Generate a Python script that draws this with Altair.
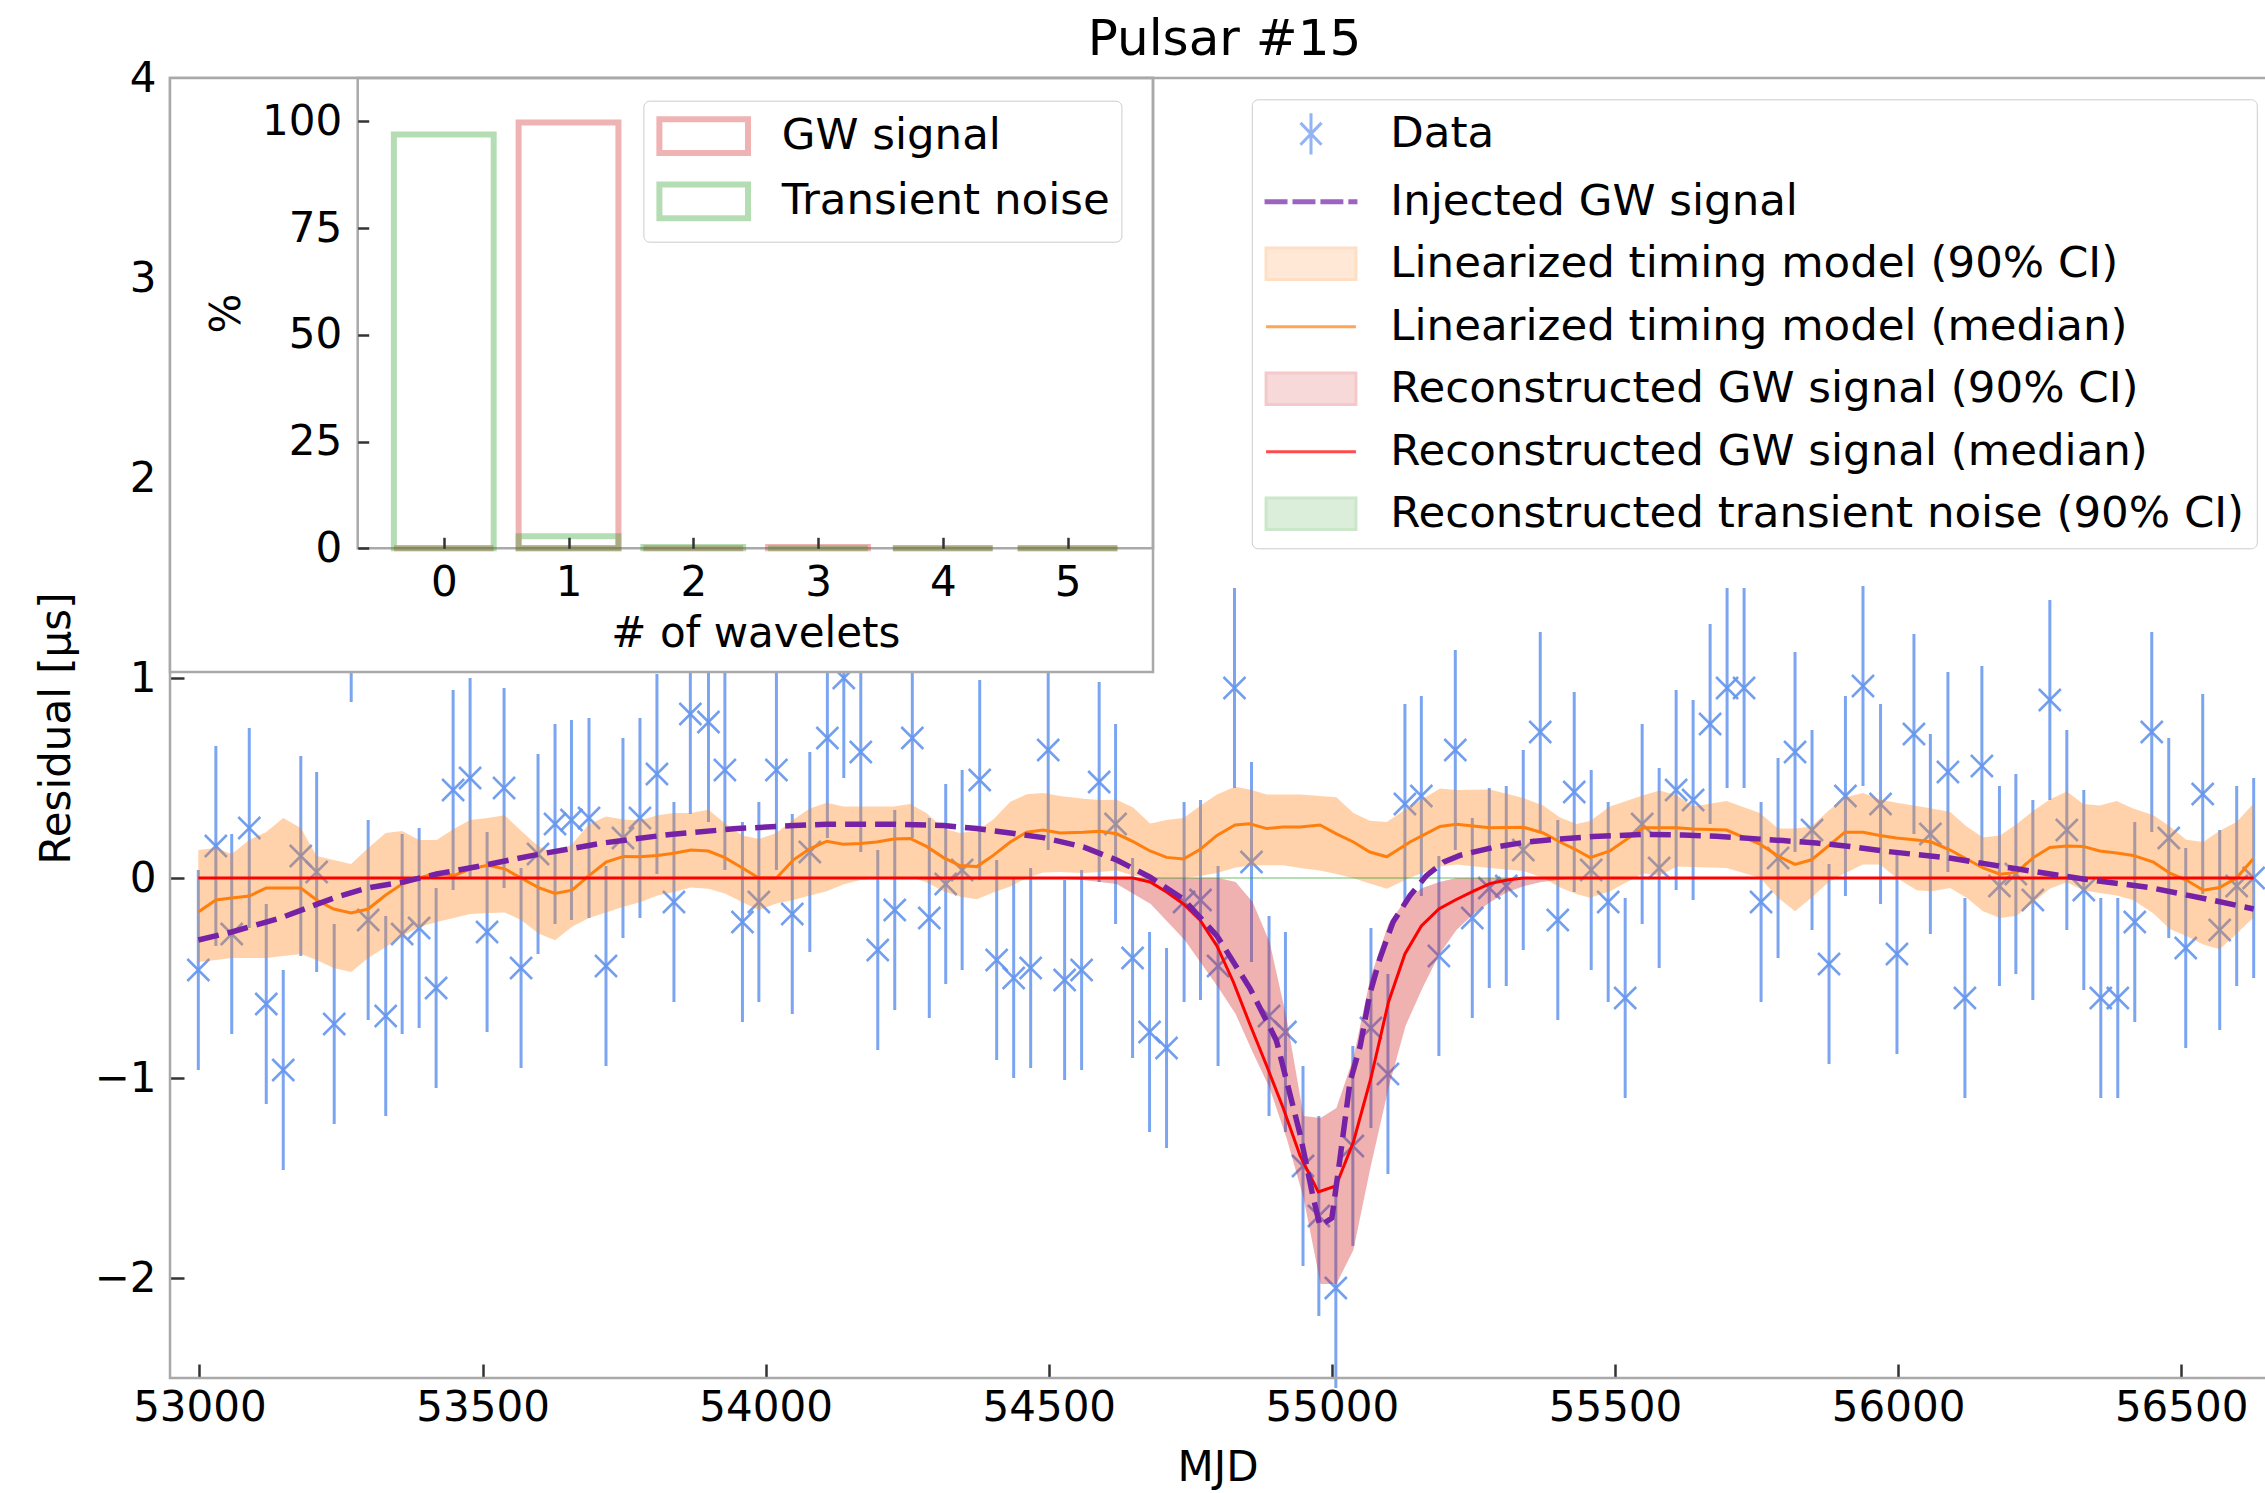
import altair as alt
import pandas as pd

FONT = "DejaVu Sans"

# ---------------------------------------------------------------- data
# timing residuals of pulsar #15 (MJD, microseconds); every error bar is +-0.5 us
TOA_MJD = [
    52998, 53029, 53057, 53088, 53118, 53148, 53179, 53207, 53238, 53268, 53298, 53329, 53358, 53388, 53418, 53448, 53478,
    53508, 53538, 53568, 53598, 53628, 53657, 53688, 53718, 53748, 53778, 53808, 53838, 53867, 53899, 53928, 53959, 53988,
    54019, 54047, 54078, 54109, 54138, 54168, 54198, 54228, 54259, 54289, 54318, 54347, 54378, 54408, 54438, 54468, 54499,
    54528, 54558, 54589, 54618, 54648, 54678, 54708, 54739, 54768, 54799, 54828, 54858, 54889, 54918, 54949, 54977, 55007, 55037,
    55069, 55099, 55129, 55158, 55189, 55218, 55248, 55278, 55308, 55338, 55368, 55399, 55428, 55458, 55488, 55518, 55548,
    55578, 55608, 55638, 55668, 55698, 55728, 55758, 55788, 55818, 55848, 55878, 55907, 55938, 55969, 55998, 56028, 56057, 56088,
    56118, 56148, 56179, 56208, 56238, 56268, 56298, 56328, 56358, 56388, 56418, 56448, 56478, 56508, 56538, 56568, 56598, 56628,
]
RESIDUAL_US = [
    -0.46, 0.16, -0.28, 0.25, -0.63, -0.96, 0.11, 0.03, -0.73, 1.38, -0.21, -0.69, -0.28, -0.25, -0.55, 0.44, 0.50,
    -0.27, 0.45, -0.45, 0.12, 0.27, 0.29, 0.30, -0.44, 0.20, 0.30, 0.52, -0.12, 0.82, 0.78, 0.54, -0.22, -0.12,
    0.54, -0.18, 0.13, 0.70, 1.00, 0.63, -0.36, -0.16, 0.70, -0.20, -0.03, 0.04, 0.49, -0.41, -0.50, -0.45, 0.64,
    -0.51, -0.46, 0.48, 0.27, -0.40, -0.77, -0.85, -0.12, -0.11, -0.44, 0.95, 0.08, -0.69, -0.77, -1.44, -1.69, -2.05, -1.34,
    -0.75, -0.98, 0.37, 0.41, -0.39, 0.64, -0.20, -0.05, -0.04, 0.14, 0.73, -0.21, 0.43, 0.04, -0.12, -0.60, 0.27,
    0.05, 0.44, 0.39, 0.77, 0.95, 0.95, -0.12, 0.10, 0.63, 0.24, -0.43, 0.41, 0.96, 0.37, -0.38, 0.72, 0.22, 0.53,
    -0.60, 0.56, -0.04, 0.02, -0.11, 0.89, 0.24, -0.06, -0.60, -0.60, -0.22, 0.73, 0.20, -0.35, 0.42, -0.26, -0.04, 0.00,
]
RESIDUAL_ERR_US = 0.5

# injected GW signal
INJ_MJD = [
    52998, 53057, 53143, 53237, 53296, 53360, 53419, 53496, 53596, 53713, 53831, 53949, 54050, 54108, 54226, 54314,
    54373, 54432, 54490, 54561, 54620, 54679, 54738, 54797, 54855, 54902, 54944, 54967, 54979, 55000, 55014, 55032,
    55050, 55067, 55085, 55108, 55138, 55167, 55197, 55226, 55285, 55344, 55403, 55462, 55550, 55620, 55679, 55797,
    55856, 55915, 55974, 56033, 56091, 56209, 56327, 56445, 56562, 56628,
]
INJ_US = [
    -0.31, -0.27, -0.20, -0.10, -0.05, -0.02, 0.02, 0.06, 0.117, 0.175, 0.218, 0.247, 0.262, 0.269, 0.269, 0.262,
    0.247, 0.225, 0.202, 0.155, 0.09, 0.004, -0.106, -0.289, -0.55, -0.812, -1.283, -1.597, -1.74, -1.70, -1.41, -1.02,
    -0.84, -0.58, -0.40, -0.22, -0.088, 0.012, 0.079, 0.113, 0.153, 0.18, 0.195, 0.207, 0.218, 0.215, 0.209, 0.187,
    0.175, 0.158, 0.135, 0.117, 0.10, 0.046, -0.005, -0.048, -0.115, -0.155,
]

# linearized timing model: 5th percentile, median, 95th percentile
TM_MJD = [
    52998, 53029, 53057, 53088, 53118, 53148, 53179, 53207, 53237, 53268, 53298, 53329, 53358, 53388, 53419, 53449,
    53478, 53509, 53539, 53568, 53599, 53628, 53658, 53688, 53718, 53749, 53778, 53809, 53838, 53868, 53899, 53928,
    53959, 53988, 54019, 54049, 54078, 54108, 54137, 54167, 54196, 54226, 54255, 54284, 54314, 54343, 54373, 54402,
    54432, 54461, 54490, 54520, 54561, 54590, 54620, 54649, 54679, 54708, 54738, 54767, 54797, 54829, 54855, 54885,
    54914, 54944, 54979, 55008, 55038, 55067, 55097, 55138, 55191, 55220, 55279, 55338, 55373, 55403, 55432, 55456,
    55491, 55550, 55579, 55609, 55638, 55697, 55756, 55788, 55818, 55847, 55877, 55906, 55938, 55968, 55997, 56033,
    56059, 56092, 56121, 56150, 56180, 56209, 56239, 56268, 56298, 56327, 56356, 56386, 56415, 56451, 56480, 56509,
    56539, 56568, 56598, 56627,
]
TM_LO_US = [
    -0.42, -0.41, -0.40, -0.40, -0.40, -0.39, -0.38, -0.41, -0.45, -0.47, -0.40, -0.345, -0.29, -0.245, -0.22, -0.20,
    -0.18, -0.175, -0.173, -0.21, -0.278, -0.311, -0.244, -0.20, -0.173, -0.144, -0.121, -0.088, -0.07, -0.048, -0.054, -0.077,
    -0.121, -0.16, -0.128, -0.11, -0.088, -0.066, -0.032, -0.01, -0.005, 0.0, 0.006, -0.021, -0.066, -0.092, -0.106, -0.072,
    -0.043, 0.0, 0.028, 0.03, 0.025, 0.03, 0.038, 0.012, -0.001, -0.001, -0.001, 0.01, 0.025, 0.051, 0.064, 0.064,
    0.064, 0.05, 0.038, 0.02, -0.001, -0.028, -0.054, 0.001, 0.057, 0.068, 0.05, 0.035, 0.001, -0.048, -0.08, -0.099,
    -0.066, 0.024, 0.012, 0.057, 0.055, 0.05, 0.001, -0.099, -0.166, -0.099, -0.021, 0.024, 0.068, 0.068, 0.001, -0.061,
    -0.066, -0.05, -0.099, -0.166, -0.20, -0.189, -0.121, -0.054, -0.021, -0.061, -0.075, -0.088, -0.11, -0.177, -0.255, -0.29,
    -0.333, -0.356, -0.278, -0.20,
]
TM_MED_US = [
    -0.17, -0.11, -0.10, -0.09, -0.05, -0.05, -0.05, -0.11, -0.155, -0.175, -0.155, -0.085, -0.03, 0.0, 0.025, 0.012,
    0.045, 0.064, 0.046, 0.0, -0.048, -0.077, -0.061, 0.012, 0.079, 0.108, 0.106, 0.113, 0.124, 0.14, 0.135, 0.102,
    0.05, 0.0, 0.0, 0.091, 0.146, 0.184, 0.169, 0.173, 0.18, 0.195, 0.198, 0.158, 0.102, 0.062, 0.057, 0.113,
    0.18, 0.229, 0.24, 0.225, 0.229, 0.234, 0.221, 0.182, 0.135, 0.103, 0.095, 0.142, 0.213, 0.265, 0.271, 0.247,
    0.255, 0.255, 0.265, 0.221, 0.18, 0.13, 0.106, 0.18, 0.258, 0.269, 0.251, 0.254, 0.225, 0.18, 0.14, 0.102,
    0.135, 0.251, 0.251, 0.251, 0.245, 0.24, 0.169, 0.11, 0.068, 0.091, 0.16, 0.229, 0.229, 0.213, 0.20, 0.19,
    0.18, 0.14, 0.095, 0.05, 0.019, 0.028, 0.102, 0.153, 0.16, 0.158, 0.135, 0.125, 0.113, 0.079, 0.024, -0.01,
    -0.061, -0.048, 0.001, 0.095,
]
TM_HI_US = [
    0.14, 0.15, 0.12, 0.19, 0.23, 0.30, 0.25, 0.11, 0.09, 0.07, 0.15, 0.225, 0.235, 0.19, 0.19, 0.245,
    0.29, 0.30, 0.314, 0.236, 0.158, 0.124, 0.169, 0.269, 0.307, 0.292, 0.287, 0.314, 0.325, 0.325, 0.341, 0.274,
    0.213, 0.195, 0.225, 0.292, 0.347, 0.376, 0.358, 0.358, 0.358, 0.358, 0.37, 0.325, 0.247, 0.225, 0.236, 0.292,
    0.381, 0.419, 0.425, 0.41, 0.396, 0.39, 0.391, 0.352, 0.273, 0.29, 0.30, 0.36, 0.417, 0.456, 0.443, 0.417,
    0.417, 0.417, 0.41, 0.404, 0.325, 0.286, 0.28, 0.358, 0.448, 0.44, 0.443, 0.40, 0.363, 0.303, 0.27, 0.285,
    0.358, 0.414, 0.437, 0.414, 0.358, 0.385, 0.325, 0.247, 0.247, 0.258, 0.336, 0.403, 0.425, 0.392, 0.376, 0.36,
    0.347, 0.33, 0.258, 0.202, 0.213, 0.269, 0.336, 0.392, 0.432, 0.37, 0.363, 0.385, 0.347, 0.314, 0.258, 0.191,
    0.18, 0.236, 0.28, 0.37,
]

# reconstructed GW signal: 90% credible band and median
GW_BAND_MJD = [
    52998, 54500, 54560, 54620, 54680, 54740, 54800, 54830, 54860, 54890, 54920, 54950, 54980, 55008, 55038,
    55068, 55100, 55130, 55160, 55190, 55220, 55250, 55280, 55310, 55340, 55370, 55400, 55430, 56628,
]
GW_LO_US = [
    0, 0, -0.01, -0.03, -0.13, -0.31, -0.55, -0.68, -0.87, -1.05, -1.30, -1.60, -2.03, -2.03, -1.86,
    -1.45, -1.05, -0.74, -0.55, -0.38, -0.26, -0.18, -0.12, -0.07, -0.04, -0.02, -0.01, 0, 0,
]
GW_HI_US = [
    0, 0, 0, 0, 0, 0, 0, -0.02, -0.12, -0.32, -0.70, -1.19, -1.20, -1.15, -0.90,
    -0.50, -0.23, -0.11, -0.05, -0.02, 0, 0, 0, 0, 0, 0, 0, 0, 0,
]
GW_MED_MJD = [
    52998, 54620, 54649, 54679, 54708, 54738, 54767, 54797, 54826, 54855, 54885, 54914, 54944, 54976,
    55007, 55038, 55069, 55100, 55129, 55158, 55189, 55218, 55250, 55279, 55309, 55338, 56628,
]
GW_MED_US = [
    0, 0, 0, -0.02, -0.07, -0.13, -0.21, -0.34, -0.52, -0.73, -0.94, -1.15, -1.39, -1.57,
    -1.54, -1.32, -1.00, -0.62, -0.38, -0.24, -0.155, -0.11, -0.066, -0.028, -0.01, 0, 0,
]

# reconstructed transient noise: 90% credible band (collapsed to zero)
TN_MJD = [52998, 56628]
TN_LO_US = [0.0, 0.0]
TN_HI_US = [0.0, 0.0]

# posterior on the number of wavelets (%)
N_WAVELETS = [0, 1, 2, 3, 4, 5]
GW_PERCENT = [0.0, 99.7, 0.0, 0.3, 0.0, 0.0]
NOISE_PERCENT = [96.9, 2.8, 0.3, 0.0, 0.0, 0.0]

LEGEND_LABELS = [
    "Data",
    "Injected GW signal",
    "Linearized timing model (90% CI)",
    "Linearized timing model (median)",
    "Reconstructed GW signal (90% CI)",
    "Reconstructed GW signal (median)",
    "Reconstructed transient noise (90% CI)",
]
INSET_LABELS = ["GW signal", "Transient noise"]

# ---------------------------------------------------------------- styling
BLUE = "#6495ED"
ORANGE = "#ff7f0e"
RED3 = "#d62728"
GREEN = "#2ca02c"
PURPLE = "#7522a6"
SPINE = "#a9a9a9"
TICK = "#333333"
LEGEND_FONT_SIZE = 43.5

W, H = 2095, 1300
X_DOMAIN = [52948, 56648]
Y_DOMAIN = [-2.5, 4]

# inset placement in view pixels
IN_LEFT, IN_RIGHT, IN_BOTTOM = 187.7, 983.0, 470.3
PANEL_BOTTOM = 594.0
IN_X_DOMAIN = [-0.69, 5.685]
IN_Y_DOMAIN = [0, 110.14]
TICK_LEN = 14
IN_TICK_LEN = 11

# legend glyphs (unit = half of sqrt(symbolSize))
X_PATH = "M-1,-1L1,1M-1,1L1,-1"
DATA_SYM = "M0,-0.98V0.98M-0.5,-0.52L0.5,0.52M-0.5,0.52L0.5,-0.52"
DASH_SYM = ("M-2.14,-0.05H-1.19V0.05H-2.14Z M-0.81,-0.05H0.14V0.05H-0.81Z "
            "M0.52,-0.05H1.47V0.05H0.52Z M1.85,-0.05H2.14V0.05H1.85Z")
LINE_SYM = "M-2.14,0H2.14"
RECT_SYM = "M-2.14,-0.75H2.14V0.75H-2.14Z"
LEGEND_SHAPE = [DATA_SYM, DASH_SYM, RECT_SYM, LINE_SYM, RECT_SYM, LINE_SYM, RECT_SYM]
LEGEND_FILL = ["transparent", PURPLE, "#ffd2ab", "transparent", "#f1b3b4", "transparent", "#b5deb5"]
LEGEND_STROKE = [BLUE, PURPLE, "#ffd2ab", ORANGE, "#f1b3b4", "#ff0000", "#b5deb5"]

# ---------------------------------------------------------------- tables
toa = pd.DataFrame({"mjd": TOA_MJD, "res": RESIDUAL_US})
toa["lo"] = toa["res"] - RESIDUAL_ERR_US
toa["hi"] = toa["res"] + RESIDUAL_ERR_US
inj = pd.DataFrame({"mjd": INJ_MJD, "v": INJ_US})
tm = pd.DataFrame({"mjd": TM_MJD, "lo": TM_LO_US, "med": TM_MED_US, "hi": TM_HI_US})
gwb = pd.DataFrame({"mjd": GW_BAND_MJD, "lo": GW_LO_US, "hi": GW_HI_US})
gwm = pd.DataFrame({"mjd": GW_MED_MJD, "v": GW_MED_US})
tn = pd.DataFrame({"mjd": TN_MJD, "lo": TN_LO_US, "hi": TN_HI_US})
hist = pd.DataFrame({
    "k": N_WAVELETS * 2,
    "pct": GW_PERCENT + NOISE_PERCENT,
    "kind": [INSET_LABELS[0]] * len(N_WAVELETS) + [INSET_LABELS[1]] * len(N_WAVELETS),
})
hist["k0"] = hist["k"] - 0.4
hist["k1"] = hist["k"] + 0.4
one = pd.DataFrame({"a": [0]})
legend_rows = pd.DataFrame({"series": LEGEND_LABELS})

# ---------------------------------------------------------------- main axes
x_axis = alt.Axis(
    values=list(range(53000, 56501, 500)), format="d", orient="bottom",
    offset=-TICK_LEN, tickSize=TICK_LEN, tickWidth=2.5, tickColor=TICK,
    domain=False, grid=False, labelPadding=9, labelFlush=False, labelOverlap=False,
    labelFontSize=42, labelFont=FONT, labelColor="black",
    title="MJD", titleFontSize=42, titleFont=FONT, titleFontWeight="normal",
    titleColor="black", titlePadding=19,
)
y_axis = alt.Axis(
    values=[-2, -1, 0, 1, 2, 3, 4], orient="left",
    offset=-TICK_LEN, tickSize=TICK_LEN, tickWidth=2.5, tickColor=TICK,
    domain=False, grid=False, labelPadding=14, labelOverlap=False,
    labelExpr="replace(datum.label, '-', '\u2212')",
    labelFontSize=42, labelFont=FONT, labelColor="black",
    title="Residual [\u03bcs]", titleFontSize=42, titleFont=FONT,
    titleFontWeight="normal", titleColor="black", titlePadding=16,
)
x_scale = alt.Scale(domain=X_DOMAIN, nice=False, zero=False)
y_scale = alt.Scale(domain=Y_DOMAIN, nice=False, zero=False)


def X(field):
    return alt.X(f"{field}:Q", scale=x_scale, axis=x_axis)


def Y(field):
    return alt.Y(f"{field}:Q", scale=y_scale, axis=y_axis)


errbars = alt.Chart(toa).mark_rule(color=BLUE, strokeWidth=3, opacity=0.85).encode(
    x=X("mjd"), y=Y("lo"), y2="hi")
markers = alt.Chart(toa).mark_point(shape=X_PATH, size=484, strokeWidth=2.5, color=BLUE,
                                    filled=False, opacity=0.9).encode(x=X("mjd"), y=Y("res"))
tm_band = alt.Chart(tm).mark_area(color=ORANGE, opacity=0.35).encode(x=X("mjd"), y=Y("lo"), y2="hi")
gw_band = alt.Chart(gwb).mark_area(color=RED3, opacity=0.36).encode(x=X("mjd"), y=Y("lo"), y2="hi")
tn_band = alt.Chart(tn).mark_line(color=GREEN, opacity=0.35, strokeWidth=2).encode(x=X("mjd"), y=Y("lo"))
tm_med = alt.Chart(tm).mark_line(color=ORANGE, strokeWidth=3).encode(x=X("mjd"), y=Y("med"))
gw_med = alt.Chart(gwm).mark_line(color="#ff0000", strokeWidth=3).encode(x=X("mjd"), y=Y("v"))
injected = alt.Chart(inj).mark_line(color=PURPLE, strokeWidth=5.5, strokeDash=[21, 9]).encode(
    x=X("mjd"), y=Y("v"))
frame = alt.Chart(one).mark_rect(fill="transparent", stroke=SPINE, strokeWidth=2.5).encode(
    x=alt.value(0), x2=alt.value(W + 10), y=alt.value(0), y2=alt.value(H))

main_legend = alt.Legend(
    title=None, orient="none", legendX=1081.8, legendY=21.3, direction="vertical",
    labelFontSize=LEGEND_FONT_SIZE, labelFont=FONT, labelColor="black", labelLimit=0,
    symbolSize=1764, symbolStrokeWidth=3, padding=12, rowPadding=18,
    symbolOffset=24.7, labelOffset=56.8, strokeColor="#cccccc",
    fillColor="white", cornerRadius=6, zindex=1,
)
legend_layer = alt.Chart(legend_rows).transform_filter("false").mark_point(size=1764, strokeWidth=3).encode(
    fill=alt.Fill("series:N", scale=alt.Scale(domain=LEGEND_LABELS, range=LEGEND_FILL), legend=main_legend),
    stroke=alt.Stroke("series:N", scale=alt.Scale(domain=LEGEND_LABELS, range=LEGEND_STROKE), legend=main_legend),
    shape=alt.Shape("series:N", scale=alt.Scale(domain=LEGEND_LABELS, range=LEGEND_SHAPE), legend=main_legend),
)

main = alt.layer(errbars, markers, tm_band, gw_band, tn_band, tm_med, gw_med, injected, frame, legend_layer)

# ---------------------------------------------------------------- inset
in_x_axis = alt.Axis(
    values=N_WAVELETS, orient="bottom", offset=(IN_BOTTOM - IN_TICK_LEN) - H,
    tickSize=IN_TICK_LEN, tickWidth=2.5, tickColor=TICK, domain=False, grid=False,
    labelPadding=14, labelFlush=False, labelOverlap=False,
    labelFontSize=42, labelFont=FONT, labelColor="black",
    title="# of wavelets", titleFontSize=42, titleFont=FONT, titleFontWeight="normal",
    titleColor="black", titlePadding=10, zindex=2,
)
in_y_axis = alt.Axis(
    values=[0, 25, 50, 75, 100], orient="left", offset=-(IN_LEFT + IN_TICK_LEN),
    tickSize=IN_TICK_LEN, tickWidth=2.5, tickColor=TICK, domain=False, grid=False,
    labelPadding=16, labelOverlap=False,
    labelFontSize=42, labelFont=FONT, labelColor="black",
    title="%", titleFontSize=42, titleFont=FONT, titleFontWeight="normal",
    titleColor="black", titlePadding=13, zindex=2,
)
in_x_scale = alt.Scale(domain=IN_X_DOMAIN, range=[IN_LEFT, IN_RIGHT], nice=False, zero=False)
in_y_scale = alt.Scale(domain=IN_Y_DOMAIN, range=[IN_BOTTOM, 0], nice=False, zero=False)

inset_legend = alt.Legend(
    title=None, orient="none", legendX=473.4, legendY=22.7, direction="vertical",
    labelFontSize=LEGEND_FONT_SIZE, labelFont=FONT, labelColor="black", labelLimit=0,
    symbolType="M-2.11,-0.8H2.11V0.8H-2.11Z", symbolSize=1764, symbolStrokeWidth=6,
    padding=11.4, rowPadding=7.3, symbolOffset=24.9, labelOffset=54,
    strokeColor="#cccccc", fillColor="white", cornerRadius=6, zindex=1,
)

panel = alt.Chart(one).mark_rect(fill="white", stroke=SPINE, strokeWidth=2.5).encode(
    x=alt.value(0), x2=alt.value(IN_RIGHT), y=alt.value(0), y2=alt.value(PANEL_BOTTOM))
in_frame = alt.Chart(one).mark_rect(fill="transparent", stroke=SPINE, strokeWidth=2.5).encode(
    x=alt.value(IN_LEFT), x2=alt.value(IN_RIGHT), y=alt.value(0), y2=alt.value(IN_BOTTOM))
bars = alt.Chart(hist).mark_bar(filled=False, strokeWidth=6, opacity=0.35).encode(
    x=alt.X("k0:Q", scale=in_x_scale, axis=in_x_axis),
    x2="k1:Q",
    y=alt.Y("pct:Q", scale=in_y_scale, axis=in_y_axis),
    y2=alt.Y2(datum=0),
    color=alt.Color("kind:N", scale=alt.Scale(domain=INSET_LABELS, range=[RED3, GREEN]), legend=inset_legend),
)

inset = alt.layer(panel, in_frame, bars)

chart = alt.layer(main, inset).resolve_scale(x="independent", y="independent").properties(
    width=W, height=H,
    padding={"left": 170, "top": 78, "right": 0, "bottom": 115},
    autosize=alt.AutoSizeParams(type="none"),
    title=alt.TitleParams("Pulsar #15", fontSize=50, font=FONT, fontWeight="normal", color="black",
                          anchor="middle", frame="group", offset=11, dx=7, dy=19),
).configure_view(stroke=None).configure_legend(strokeWidth=2).configure(font=FONT, background="white")

chart.save("out.html", embed_options={"renderer": "svg", "actions": False})
